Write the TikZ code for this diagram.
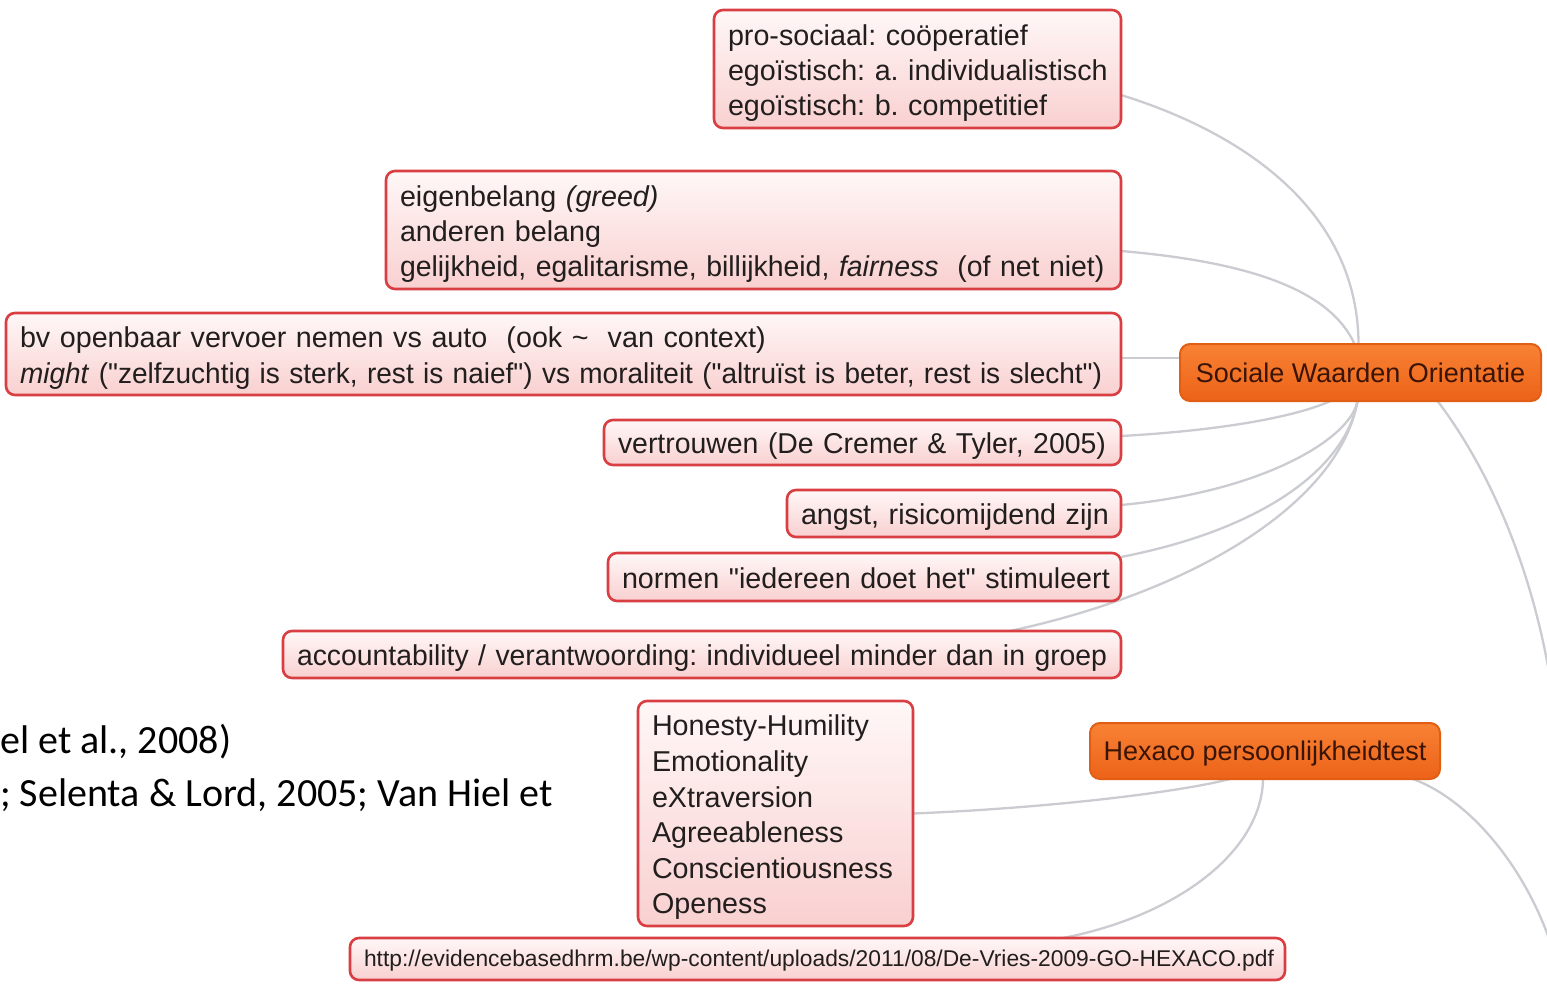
\documentclass[tikz,border=0pt]{standalone}
\usepackage{fontspec}
\setmainfont{Liberation Sans}[Ligatures=TeXOff]
\newfontfamily\calibri{Carlito}
\usetikzlibrary{backgrounds}
\definecolor{boxred}{RGB}{216,62,66}
\definecolor{boxtop}{RGB}{255,247,247}
\definecolor{boxbot}{RGB}{249,208,208}
\definecolor{textdark}{RGB}{34,30,30}
\definecolor{otop}{RGB}{248,130,52}
\definecolor{obot}{RGB}{236,98,24}
\definecolor{oborder}{RGB}{226,94,20}
\definecolor{obrown}{RGB}{58,20,6}
\definecolor{linegray}{RGB}{203,204,209}
\newcommand\qt{"}
\newcommand\Ln[1]{\mbox{\rule[-6.3pt]{0pt}{35.3pt}#1}}
\newcommand\Lu[1]{\mbox{\rule[-6pt]{0pt}{26pt}#1}}
\tikzset{
  rbox/.style={draw=boxred, line width=2.6pt, rounded corners=9pt, top color=boxtop, bottom color=boxbot,
    inner xsep=14pt, inner ysep=0pt, outer sep=0pt, align=left, text=textdark, anchor=north west,
    font=\fontsize{28.7}{35.3}\selectfont, execute at begin node={\frenchspacing}},
  obox/.style={draw=oborder, line width=2pt, rounded corners=10pt, top color=otop, bottom color=obot,
    text=obrown, inner sep=0pt, outer sep=0pt, anchor=north west, font=\fontsize{27}{32}\selectfont},
  conn/.style={draw=linegray, line width=2.3pt},
  cite/.style={font=\calibri\fontsize{40}{48}\selectfont, anchor=base west, inner sep=0pt, text=black}
}
\begin{document}
\begin{tikzpicture}[x=1pt,y=-1pt]
\useasboundingbox (0,0) rectangle (1547,998);
\clip (0,0) rectangle (1547,998);

% boxes
\node[rbox, text width=379pt, minimum height=118pt] (b1) at (714,10)
  {\Ln{pro-sociaal: coöperatief}\\\Ln{egoïstisch: a. individualistisch}\\\Ln{egoïstisch: b. competitief}};
\node[rbox, text width=707pt, minimum height=118pt] (b2) at (386,171)
  {\Ln{eigenbelang \textit{(greed)}}\\\Ln{anderen belang}\\\Ln{\scalebox{0.99}[1]{gelijkheid, egalitarisme, billijkheid, \textit{fairness}\ \ (of net niet)}}};
\node[rbox, text width=1087pt, minimum height=82pt] (b3) at (6,313)
  {\Ln{bv openbaar vervoer nemen vs auto\ \ (ook \textasciitilde\ \ van context)}\\\Ln{\scalebox{0.976}[1]{\textit{might} (\qt zelfzuchtig is sterk, rest is naief\qt) vs moraliteit (\qt altruïst is beter, rest is slecht\qt)}}};
\node[rbox, text width=489pt, minimum height=45pt] (b4) at (604,420)
  {\Ln{\scalebox{0.99}[1]{vertrouwen (De Cremer \& Tyler, 2005)}}};
\node[rbox, text width=306pt, minimum height=47pt] (b5) at (787,490)
  {\Ln{angst, risicomijdend zijn}};
\node[rbox, text width=485pt, minimum height=48pt] (b6) at (608,553)
  {\Ln{normen \qt iedereen doet het\qt\ stimuleert}};
\node[rbox, text width=810pt, minimum height=47pt] (b7) at (283,631)
  {\Ln{\scalebox{0.988}[1]{accountability / verantwoording: individueel minder dan in groep}}};
\node[rbox, text width=247pt, minimum height=225pt, font=\fontsize{28.7}{35.6}\selectfont] (hon) at (638,701)
  {\Ln{Honesty-Humility}\\\Ln{Emotionality}\\\Ln{eXtraversion}\\\Ln{Agreeableness}\\\Ln{Conscientiousness}\\\Ln{Openess}};
\node[rbox, text width=907pt, minimum height=42pt, font=\fontsize{22.8}{26}\selectfont] (url) at (350,938)
  {\Lu{http://evidencebasedhrm.be/wp-content/uploads/2011/08/De-Vries-2009-GO-HEXACO.pdf}};

% orange nodes
\node[obox, minimum width=361pt, minimum height=57pt] (swo) at (1180,344) {Sociale Waarden Orientatie};
\node[obox, minimum width=350pt, minimum height=56pt, text height=22pt, text depth=3pt] (hex) at (1090,723) {Hexaco persoonlijkheidtest};

% off-picture parent ends
\coordinate (par1) at (1556,720);
\coordinate (par2) at (1556,960);

% citation text (cut off at left edge in the source slide)
\node[cite] (c1) at (0,753) {el et al., 2008)};
\node[cite] (c2) at (0,806) {; Selenta \& Lord, 2005; Van Hiel et};

% connectors
\begin{scope}[on background layer]
\fill[white] (0,0) rectangle (1547,998);
\draw[conn] ([yshift=-26pt]b1.east) .. controls (1250,135) and (1358,215) .. ([xshift=-2pt]swo.north);
\draw[conn] ([yshift=-21pt]b2.east) .. controls (1250,262) and (1330,290) .. ([xshift=-6pt]swo.north);
\draw[conn] ([yshift=-4pt]b3.east) -- ([yshift=-4pt]b3.east -| swo.west);
\draw[conn] ([yshift=6.5pt]b4.east) .. controls (1230,430) and (1300,415) .. ([xshift=-30pt]swo.south);
\draw[conn] ([yshift=8.5pt]b5.east) .. controls (1260,492) and (1350,440) .. ([xshift=-3pt]swo.south);
\draw[conn] ([yshift=-4pt]b6.north east) .. controls (1260,530) and (1345,470) .. ([xshift=-3pt]swo.south);
\draw[conn] ([xshift=308pt]b7.north) .. controls (1200,590) and (1340,500) .. ([xshift=-3pt]swo.south);
\draw[conn] (hon.east) .. controls (1050,808) and (1180,792) .. ([xshift=-35pt]hex.south);
\draw[conn] ([xshift=245.5pt]url.north) .. controls (1180,915) and (1262,850) .. ([xshift=-2pt]hex.south);
\draw[conn] ([xshift=77pt]swo.south) .. controls (1490,470) and (1540,580) .. (par1);
\draw[conn] ([xshift=148pt]hex.south) .. controls (1470,800) and (1530,870) .. (par2);
\end{scope}
\end{tikzpicture}
\end{document}
